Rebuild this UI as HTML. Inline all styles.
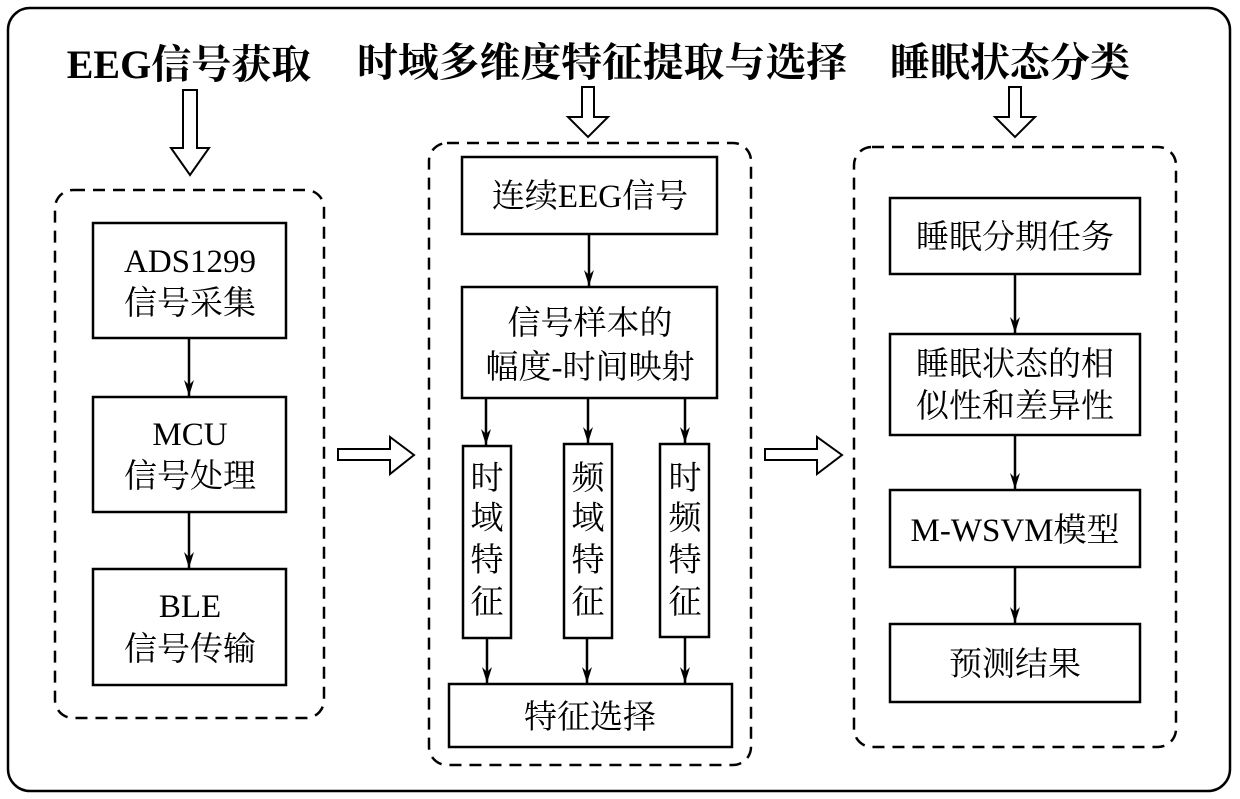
<!DOCTYPE html>
<html><head><meta charset="utf-8"><style>
html,body{margin:0;padding:0;background:#fff;}
svg{display:block;}
text{font-family:"Liberation Serif","Noto Serif CJK SC","Noto Sans CJK SC",serif;fill:#000;}
.t{font-size:40px;font-weight:bold;}
.b{font-size:33px;}
</style></head><body>
<svg width="1240" height="799" viewBox="0 0 1240 799" xmlns="http://www.w3.org/2000/svg">
<defs><marker id="a" markerWidth="17" markerHeight="10" refX="16" refY="5" orient="auto" markerUnits="userSpaceOnUse">
<path d="M0,0 L16,5 L0,10 L5,5 Z" fill="#000"/></marker></defs>
<rect x="8" y="8" width="1222" height="783" rx="22" fill="none" stroke="#000" stroke-width="2.5"/>
<text class="t" x="189" y="78" text-anchor="middle">EEG信号获取</text>
<text class="t" x="602" y="76" text-anchor="middle" textLength="490" lengthAdjust="spacingAndGlyphs">时域多维度特征提取与选择</text>
<text class="t" x="1010" y="76" text-anchor="middle">睡眠状态分类</text>
<g fill="#fff" stroke="#000" stroke-width="2">
<path d="M183,90 H197 V148 H209 L190,175 L171,148 H183 Z"/>
<path d="M582,87 H594 V117 H608 L588,137 L568,117 H582 Z"/>
<path d="M1009,87 H1021 V117 H1035 L1015,137 L995,117 H1009 Z"/>
<path d="M338,449 H390 V437 L414,455 L390,474 V460 H338 Z"/>
<path d="M765,449 H817 V437 L842,455 L817,474 V460 H765 Z"/>
</g>
<g fill="none" stroke="#000" stroke-width="2.5" stroke-dasharray="12,8">
<rect x="55" y="190" width="269" height="528" rx="18"/>
<rect x="429" y="143" width="322" height="622" rx="18"/>
<rect x="854" y="147" width="322" height="600" rx="18"/>
</g>
<g fill="#fff" stroke="#000" stroke-width="2.5">
<rect x="93" y="223" width="193" height="115"/>
<rect x="93" y="397" width="193" height="115"/>
<rect x="93" y="569" width="193" height="116"/>
<rect x="462" y="157" width="255" height="77"/>
<rect x="462" y="287" width="255" height="111"/>
<rect x="463" y="446" width="48" height="192"/>
<rect x="564" y="444" width="48" height="194"/>
<rect x="660" y="444" width="49" height="193"/>
<rect x="449" y="684" width="283" height="63"/>
<rect x="890" y="198" width="250" height="76"/>
<rect x="890" y="334" width="250" height="101"/>
<rect x="890" y="490" width="250" height="77"/>
<rect x="890" y="624" width="250" height="78"/>
</g>
<g stroke="#000" stroke-width="2.5" marker-end="url(#a)">
<line x1="189" y1="338" x2="189" y2="396"/>
<line x1="189" y1="512" x2="189" y2="568"/>
<line x1="589" y1="234" x2="589" y2="286"/>
<line x1="486" y1="398" x2="486" y2="445"/>
<line x1="588" y1="398" x2="588" y2="443"/>
<line x1="685" y1="398" x2="685" y2="443"/>
<line x1="487" y1="638" x2="487" y2="683"/>
<line x1="587" y1="638" x2="587" y2="683"/>
<line x1="685" y1="637" x2="685" y2="683"/>
<line x1="1015" y1="274" x2="1015" y2="333"/>
<line x1="1015" y1="435" x2="1015" y2="489"/>
<line x1="1015" y1="567" x2="1015" y2="623"/>
</g>
<g class="b" text-anchor="middle">
<text class="b" x="190" y="272">ADS1299</text>
<text class="b" x="190" y="314">信号采集</text>
<text class="b" x="190" y="445">MCU</text>
<text class="b" x="190" y="487">信号处理</text>
<text class="b" x="190" y="617">BLE</text>
<text class="b" x="190" y="660">信号传输</text>
<text class="b" x="590" y="207">连续EEG信号</text>
<text class="b" x="590" y="334">信号样本的</text>
<text class="b" x="590" y="378">幅度-时间映射</text>
<text class="b" x="487" y="489">时</text><text class="b" x="487" y="529">域</text><text class="b" x="487" y="571">特</text><text class="b" x="487" y="613">征</text>
<text class="b" x="588" y="489">频</text><text class="b" x="588" y="529">域</text><text class="b" x="588" y="571">特</text><text class="b" x="588" y="613">征</text>
<text class="b" x="685" y="489">时</text><text class="b" x="685" y="529">频</text><text class="b" x="685" y="571">特</text><text class="b" x="685" y="613">征</text>
<text class="b" x="590" y="728">特征选择</text>
<text class="b" x="1015" y="248">睡眠分期任务</text>
<text class="b" x="1015" y="375">睡眠状态的相</text>
<text class="b" x="1015" y="417">似性和差异性</text>
<text class="b" x="1015" y="541">M-WSVM模型</text>
<text class="b" x="1015" y="675">预测结果</text>
</g>
</svg>
</body></html>
